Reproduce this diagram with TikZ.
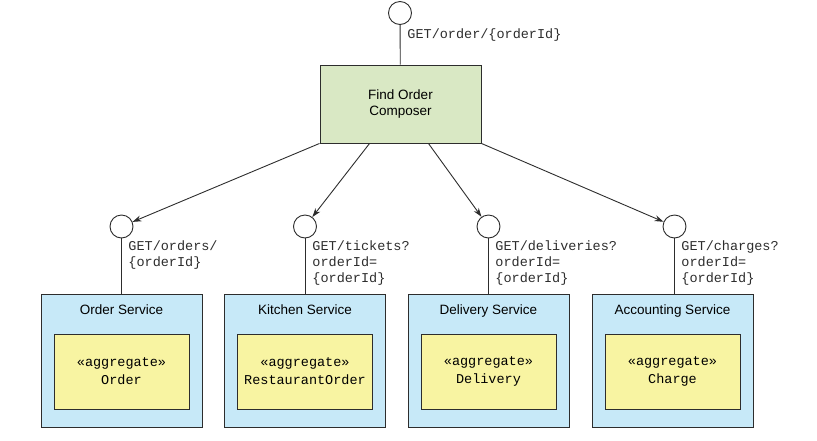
\documentclass[tikz,border=0pt]{standalone}
\usepackage{fontspec}
\setmainfont{Liberation Sans}
\setmonofont{Liberation Mono}
\usetikzlibrary{arrows.meta,positioning}

\definecolor{composergreen}{RGB}{217,232,196}
\definecolor{serviceblue}{RGB}{199,233,248}
\definecolor{aggyellow}{RGB}{248,244,162}
\definecolor{edgegray}{RGB}{45,45,45}

\begin{document}
\begin{tikzpicture}[
    x = 1pt,
    y = -1pt,
    %thick,
    line width = 0.9pt,
    every node/.style = {font=\fontsize{13.5}{16}\selectfont},
    port/.style = {draw=edgegray, fill=white, circle, minimum size=23pt, inner sep=0pt},
    composer/.style = {draw=edgegray, fill=composergreen, minimum width=161pt, minimum height=78pt, align=center},
    service/.style = {draw=edgegray, fill=serviceblue, minimum width=161pt, minimum height=133pt, inner sep=0pt},
    title/.style = {below = 11pt, inner sep=0pt},
    aggregate/.style = {draw=edgegray, fill=aggyellow, minimum width=135pt, minimum height=75pt, align=center,
      font=\ttfamily\fontsize{13.5}{18}\selectfont},
    apilabel/.style = {anchor=north west, inner sep=0pt, align=left,
      font=\ttfamily\fontsize{13.5}{16}\selectfont, text=edgegray},
    call/.style = {draw=edgegray, -{Stealth[length=9pt, width=6pt]}},
    wire/.style = {draw=edgegray}
  ]
  \useasboundingbox (0,0) rectangle (817,440);

  % Composer
  \node[port] (api) at (400,13) {};
  \node[composer] (find) at (400.5,104) {Find Order\\Composer};
  \draw[wire] (api) -- (find);
  \node[apilabel] (apilbl) at (407,28) {GET/order/\{orderId\}};

  % Services
  \node[service] (ordsvc) at (121.5,360.5) {};
  \node[service] (kitsvc) at (305,360.5) {};
  \node[service] (delsvc) at (488.5,360.5) {};
  \node[service] (accsvc) at (672.5,360.5) {};

  \node[title] (ordtitle) at (ordsvc.north) {Order Service};
  \node[title] (kittitle) at (kitsvc.north) {Kitchen Service};
  \node[title] (deltitle) at (delsvc.north) {Delivery Service};
  \node[title] (acctitle) at (accsvc.north) {Accounting Service};

  \node[aggregate] (ordagg) at (121.5,371.5) {«aggregate»\\Order};
  \node[aggregate] (kitagg) at (305,371.5) {«aggregate»\\RestaurantOrder};
  \node[aggregate] (delagg) at (488.5,371.5) {«aggregate»\\Delivery};
  \node[aggregate] (accagg) at (672.5,371.5) {«aggregate»\\Charge};

  % Ports
  \node[port] (ordport) at (121.5,226.5) {};
  \node[port] (kitport) at (305,226.5) {};
  \node[port] (delport) at (488.5,226.5) {};
  \node[port] (accport) at (674.5,226.5) {};

  \draw[wire] (ordport) -- (ordport |- ordsvc.north);
  \draw[wire] (kitport) -- (kitport |- kitsvc.north);
  \draw[wire] (delport) -- (delport |- delsvc.north);
  \draw[wire] (accport) -- (accport |- accsvc.north);

  \node[apilabel] (ordlbl) at (128,240) {GET/orders/\\\{orderId\}};
  \node[apilabel] (kitlbl) at (312,240) {GET/tickets?\\orderId=\\\{orderId\}};
  \node[apilabel] (dellbl) at (495,240) {GET/deliveries?\\orderId=\\\{orderId\}};
  \node[apilabel] (acclbl) at (681,240) {GET/charges?\\orderId=\\\{orderId\}};

  % Calls
  \draw[call] (find.south west) -- (ordport);
  \draw[call] ([xshift=50pt]find.south west) -- (kitport);
  \draw[call] ([xshift=-53pt]find.south east) -- (delport);
  \draw[call] (find.south east) -- (accport);
\end{tikzpicture}
\end{document}
